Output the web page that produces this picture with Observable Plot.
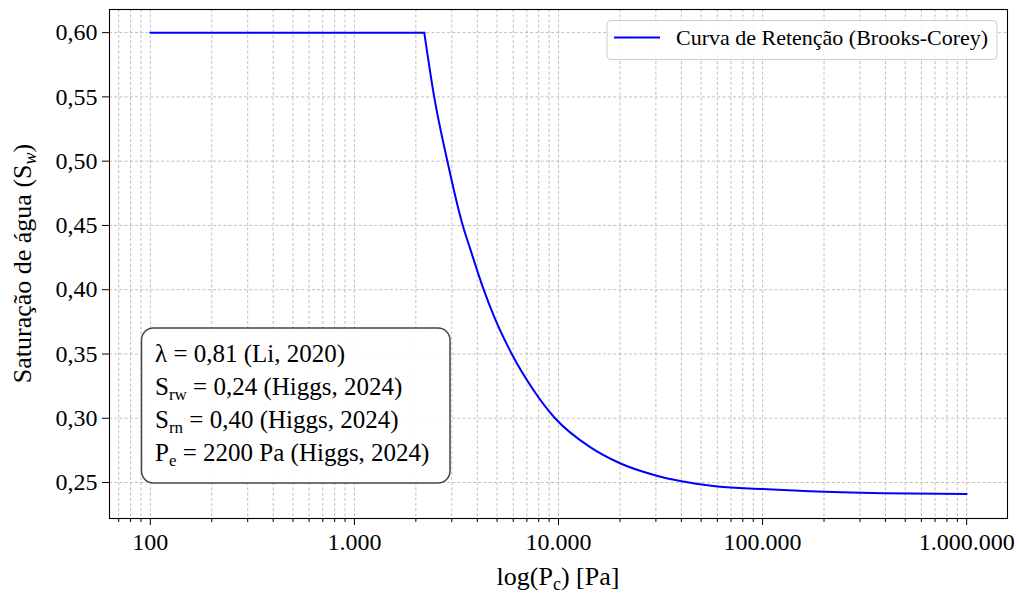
<!DOCTYPE html>
<html>
<head>
<meta charset="utf-8">
<script src="https://cdn.jsdelivr.net/npm/d3@7"></script>
<script src="https://cdn.jsdelivr.net/npm/@observablehq/plot@0.6"></script>
<style>
  html, body { margin: 0; padding: 0; background: #ffffff; }
  #chart svg { display: block; }
</style>
</head>
<body>
<div id="chart"></div>
<script>
// ---- Data ----
const pressure   = [100, 2200, 2460, 2855, 3396, 3690, 4256, 4837, 5902, 7535, 9620, 14290, 20000, 30000, 40000, 60000, 100000, 170000, 390000, 1000000];
const saturation = [0.600, 0.600, 0.550, 0.500, 0.450, 0.432, 0.402, 0.379, 0.350, 0.322, 0.300, 0.2775, 0.2650, 0.2555, 0.2510, 0.2469, 0.2449, 0.2432, 0.2417, 0.2410];
const entryPressure = 2200;

const xTicks      = [100, 1000, 10000, 100000, 1000000];
const xTickLabels = ["100", "1.000", "10.000", "100.000", "1.000.000"];
const yTicks      = [0.25, 0.30, 0.35, 0.40, 0.45, 0.50, 0.55, 0.60];
const yTickLabels = ["0,25", "0,30", "0,35", "0,40", "0,45", "0,50", "0,55", "0,60"];

const legendLabel = "Curva de Retenção (Brooks-Corey)";
const xLabelParts = ["log(P", "c", ") [Pa]"];
const yLabelParts = ["Saturação de água (S", "w", ")"];

const paramSymbols = ["λ", "S", "S", "P"];
const paramSubs    = ["", "rw", "rn", "e"];
const paramRest    = [" = 0,81 (Li, 2020)", " = 0,24 (Higgs, 2024)", " = 0,40 (Higgs, 2024)", " = 2200 Pa (Higgs, 2024)"];

// ---- Build table ----
const data = pressure.map((p, i) => ({p, s: saturation[i]}));
const flat = data.filter(d => d.p <= entryPressure);
const decay = data.filter(d => d.p >= entryPressure);

const xLabelMap = new Map(xTicks.map((v, i) => [v, xTickLabels[i]]));
const yLabelMap = new Map(yTicks.map((v, i) => [v, yTickLabels[i]]));

// minor log ticks (2..9 x 10^k) inside the visible range
const xMinor = [];
for (let e = 1; e <= 5; e++) {
  for (let m = 2; m <= 9; m++) {
    const v = m * Math.pow(10, e);
    if (v >= 70 && v <= 900000) xMinor.push(v);
  }
}

const W = 1019, H = 595;
const mL = 109, mR = 12, mT = 9, mB = 77;
const FONT = "'Liberation Serif', 'Times New Roman', Times, serif";
const gridStyle = {stroke: "#b0b0b0", strokeOpacity: 1, strokeWidth: 0.8, strokeDasharray: "3,2.2"};

const chart = Plot.plot({
  width: W,
  height: H,
  marginLeft: mL,
  marginRight: mR,
  marginTop: mT,
  marginBottom: mB,
  style: {fontFamily: FONT, fontSize: "24px", background: "#ffffff", color: "#000000"},
  x: {type: "log", domain: [Math.pow(10, 1.8), Math.pow(10, 6.2)]},
  y: {domain: [0.222, 0.618]},
  marks: [
    Plot.gridX(xMinor, gridStyle),
    Plot.gridX(xTicks, gridStyle),
    Plot.gridY(yTicks, gridStyle),
    Plot.line(flat, {x: "p", y: "s", stroke: "#0000ff", strokeWidth: 2}),
    Plot.line(decay, {x: "p", y: "s", stroke: "#0000ff", strokeWidth: 2, curve: "monotone-x"}),
    Plot.frame({stroke: "#000000", strokeWidth: 1.1}),
    Plot.axisX(xTicks, {tickSize: 7, tickPadding: 7, tickFormat: d => xLabelMap.get(d), fontSize: 24, label: null}),
    Plot.axisX(xMinor, {tickSize: 4, fill: "none", label: null}),
    Plot.axisY(yTicks, {tickSize: 7, tickPadding: 5, tickFormat: d => yLabelMap.get(d), fontSize: 24, label: null})
  ]
});

document.getElementById("chart").appendChild(chart);
const svg = d3.select(chart);

// ---- axis labels ----
const xl = svg.append("text")
  .attr("x", mL + (W - mL - mR) / 2).attr("y", 585)
  .attr("text-anchor", "middle")
  .attr("font-family", FONT).attr("font-size", 26).attr("fill", "#000");
xl.append("tspan").text(xLabelParts[0]);
xl.append("tspan").attr("font-size", 18).attr("dy", 5).text(xLabelParts[1]);
xl.append("tspan").attr("dy", -5).text(xLabelParts[2]);

const yl = svg.append("text")
  .attr("transform", `translate(31,${mT + (H - mT - mB) / 2}) rotate(-90)`)
  .attr("text-anchor", "middle")
  .attr("font-family", FONT).attr("font-size", 26).attr("fill", "#000");
yl.append("tspan").text(yLabelParts[0]);
yl.append("tspan").attr("font-size", 18).attr("font-style", "italic").attr("dy", 5).text(yLabelParts[1]);
yl.append("tspan").attr("dy", -5).text(yLabelParts[2]);

// ---- legend (upper right) ----
const lg = svg.append("g");
lg.append("rect")
  .attr("x", 607).attr("y", 20.5).attr("width", 390).attr("height", 39)
  .attr("rx", 4).attr("fill", "#ffffff").attr("fill-opacity", 0.85)
  .attr("stroke", "#cccccc").attr("stroke-width", 1);
lg.append("line")
  .attr("x1", 614).attr("x2", 660).attr("y1", 37.5).attr("y2", 37.5)
  .attr("stroke", "#0000ff").attr("stroke-width", 2);
lg.append("text")
  .attr("x", 676).attr("y", 45)
  .attr("text-anchor", "start")
  .attr("font-family", FONT).attr("font-size", 22).attr("fill", "#000")
  .text(legendLabel);

// ---- parameter box (lower left) ----
const pb = svg.append("g");
pb.append("rect")
  .attr("x", 141.5).attr("y", 328).attr("width", 308.5).attr("height", 155)
  .attr("rx", 12).attr("fill", "#ffffff").attr("fill-opacity", 0.9)
  .attr("stroke", "#444444").attr("stroke-width", 1.5);
paramSymbols.forEach((sym, i) => {
  const t = pb.append("text")
    .attr("x", 155).attr("y", 361.5 + 33 * i)
    .attr("text-anchor", "start")
    .attr("font-family", FONT).attr("font-size", 25).attr("fill", "#000");
  t.append("tspan").text(sym);
  if (paramSubs[i]) {
    t.append("tspan").attr("font-size", 17).attr("dy", 5).text(paramSubs[i]);
    t.append("tspan").attr("dy", -5).text(paramRest[i]);
  } else {
    t.append("tspan").text(paramRest[i]);
  }
});
</script>
</body>
</html>
